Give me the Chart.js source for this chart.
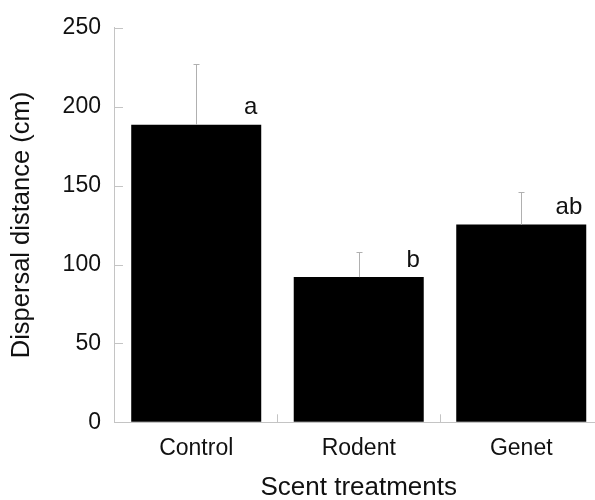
<!DOCTYPE html>
<html lang="en">
<head>
  <meta charset="utf-8" />
  <title>Dispersal distance by scent treatment</title>
  <script src="https://cdn.jsdelivr.net/npm/chart.js@4.4.4/dist/chart.umd.min.js"></script>
  <style>
    html, body { margin: 0; padding: 0; background: #fff; overflow: hidden; }
    #stage { display: block; }
  </style>
</head>
<body>
  <canvas id="stage" width="610" height="510"></canvas>

  <script>
    // values
    const treatments = ['Control', 'Rodent', 'Genet'];
    const meanDistance = [188.5, 92, 125.3];
    const errorUp = [38.4, 15.8, 20.4];
    const groupLetters = ['a', 'b', 'ab'];
    const yMin = 0;
    const yMax = 250;
    const yStep = 50;

    const FONT = "'Liberation Sans', Arial, sans-serif";
    const AXIS_GREY = '#c4c4c4';

    // gray upper error bars + significance letters
    const errorBars = {
      id: 'errorBars',
      afterDatasetsDraw(chart) {
        const ctx = chart.ctx;
        const y = chart.scales.y;
        const meta = chart.getDatasetMeta(0);
        ctx.save();
        meta.data.forEach((bar, i) => {
          const top = y.getPixelForValue(meanDistance[i] + errorUp[i]);
          const x = Math.round(bar.x) + 0.5;
          ctx.strokeStyle = '#b0b0b0';
          ctx.lineWidth = 1;
          ctx.beginPath();
          ctx.moveTo(x, bar.y);
          ctx.lineTo(x, top);
          ctx.moveTo(x - 3, Math.round(top) + 0.5);
          ctx.lineTo(x + 3, Math.round(top) + 0.5);
          ctx.stroke();

          ctx.fillStyle = '#111';
          ctx.font = '24px ' + FONT;
          ctx.textAlign = 'right';
          ctx.textBaseline = 'alphabetic';
          ctx.fillText(groupLetters[i], bar.x + bar.width / 2 - 4, bar.y - 10.5);
        });
        ctx.restore();
      }
    };

    // inward tick marks like the original
    const innerTicks = {
      id: 'innerTicks',
      afterDraw(chart) {
        const ctx = chart.ctx;
        const area = chart.chartArea;
        const x = chart.scales.x;
        const y = chart.scales.y;
        ctx.save();
        ctx.strokeStyle = AXIS_GREY;
        ctx.lineWidth = 1;
        ctx.beginPath();
        y.ticks.forEach(t => {
          const py = Math.round(y.getPixelForValue(t.value)) + 0.5;
          ctx.moveTo(area.left, py);
          ctx.lineTo(area.left + 8, py);
        });
        for (let i = 0; i < treatments.length - 1; i++) {
          const px = Math.round((x.getPixelForValue(i) + x.getPixelForValue(i + 1)) / 2) + 0.5;
          ctx.moveTo(px, area.bottom);
          ctx.lineTo(px, area.bottom - 8);
        }
        ctx.stroke();
        ctx.restore();
      }
    };

    new Chart(document.getElementById('stage'), {
      type: 'bar',
      data: {
        labels: treatments,
        datasets: [{
          data: meanDistance,
          backgroundColor: '#000',
          borderWidth: 0,
          categoryPercentage: 1,
          barPercentage: 0.8
        }]
      },
      options: {
        responsive: false,
        animation: false,
        devicePixelRatio: 1,
        layout: { padding: { left: 6, top: 25, right: 7.5, bottom: 8.9 } },
        plugins: {
          legend: { display: false },
          tooltip: { enabled: false }
        },
        scales: {
          x: {
            grid: { display: true, drawOnChartArea: false, drawTicks: false },
            border: { color: AXIS_GREY, width: 1 },
            ticks: {
              color: '#111',
              padding: 12.6,
              maxRotation: 0,
              minRotation: 0,
              font: { family: FONT, size: 23, lineHeight: 1.2 }
            },
            title: {
              display: true,
              text: 'Scent treatments',
              color: '#111',
              padding: { top: 0, bottom: 0 },
              font: { family: FONT, size: 26, lineHeight: 1 }
            }
          },
          y: {
            min: yMin,
            max: yMax,
            grid: { display: true, drawOnChartArea: false, drawTicks: false },
            border: { color: AXIS_GREY, width: 1 },
            ticks: {
              stepSize: yStep,
              color: '#111',
              padding: 14,
              font: { family: FONT, size: 23, lineHeight: 1.2 }
            },
            title: {
              display: true,
              text: 'Dispersal distance (cm)',
              color: '#111',
              padding: { top: 2.95, bottom: 14.15 },
              font: { family: FONT, size: 25.5, lineHeight: 1 }
            }
          }
        }
      },
      plugins: [errorBars, innerTicks]
    });
  </script>
</body>
</html>
